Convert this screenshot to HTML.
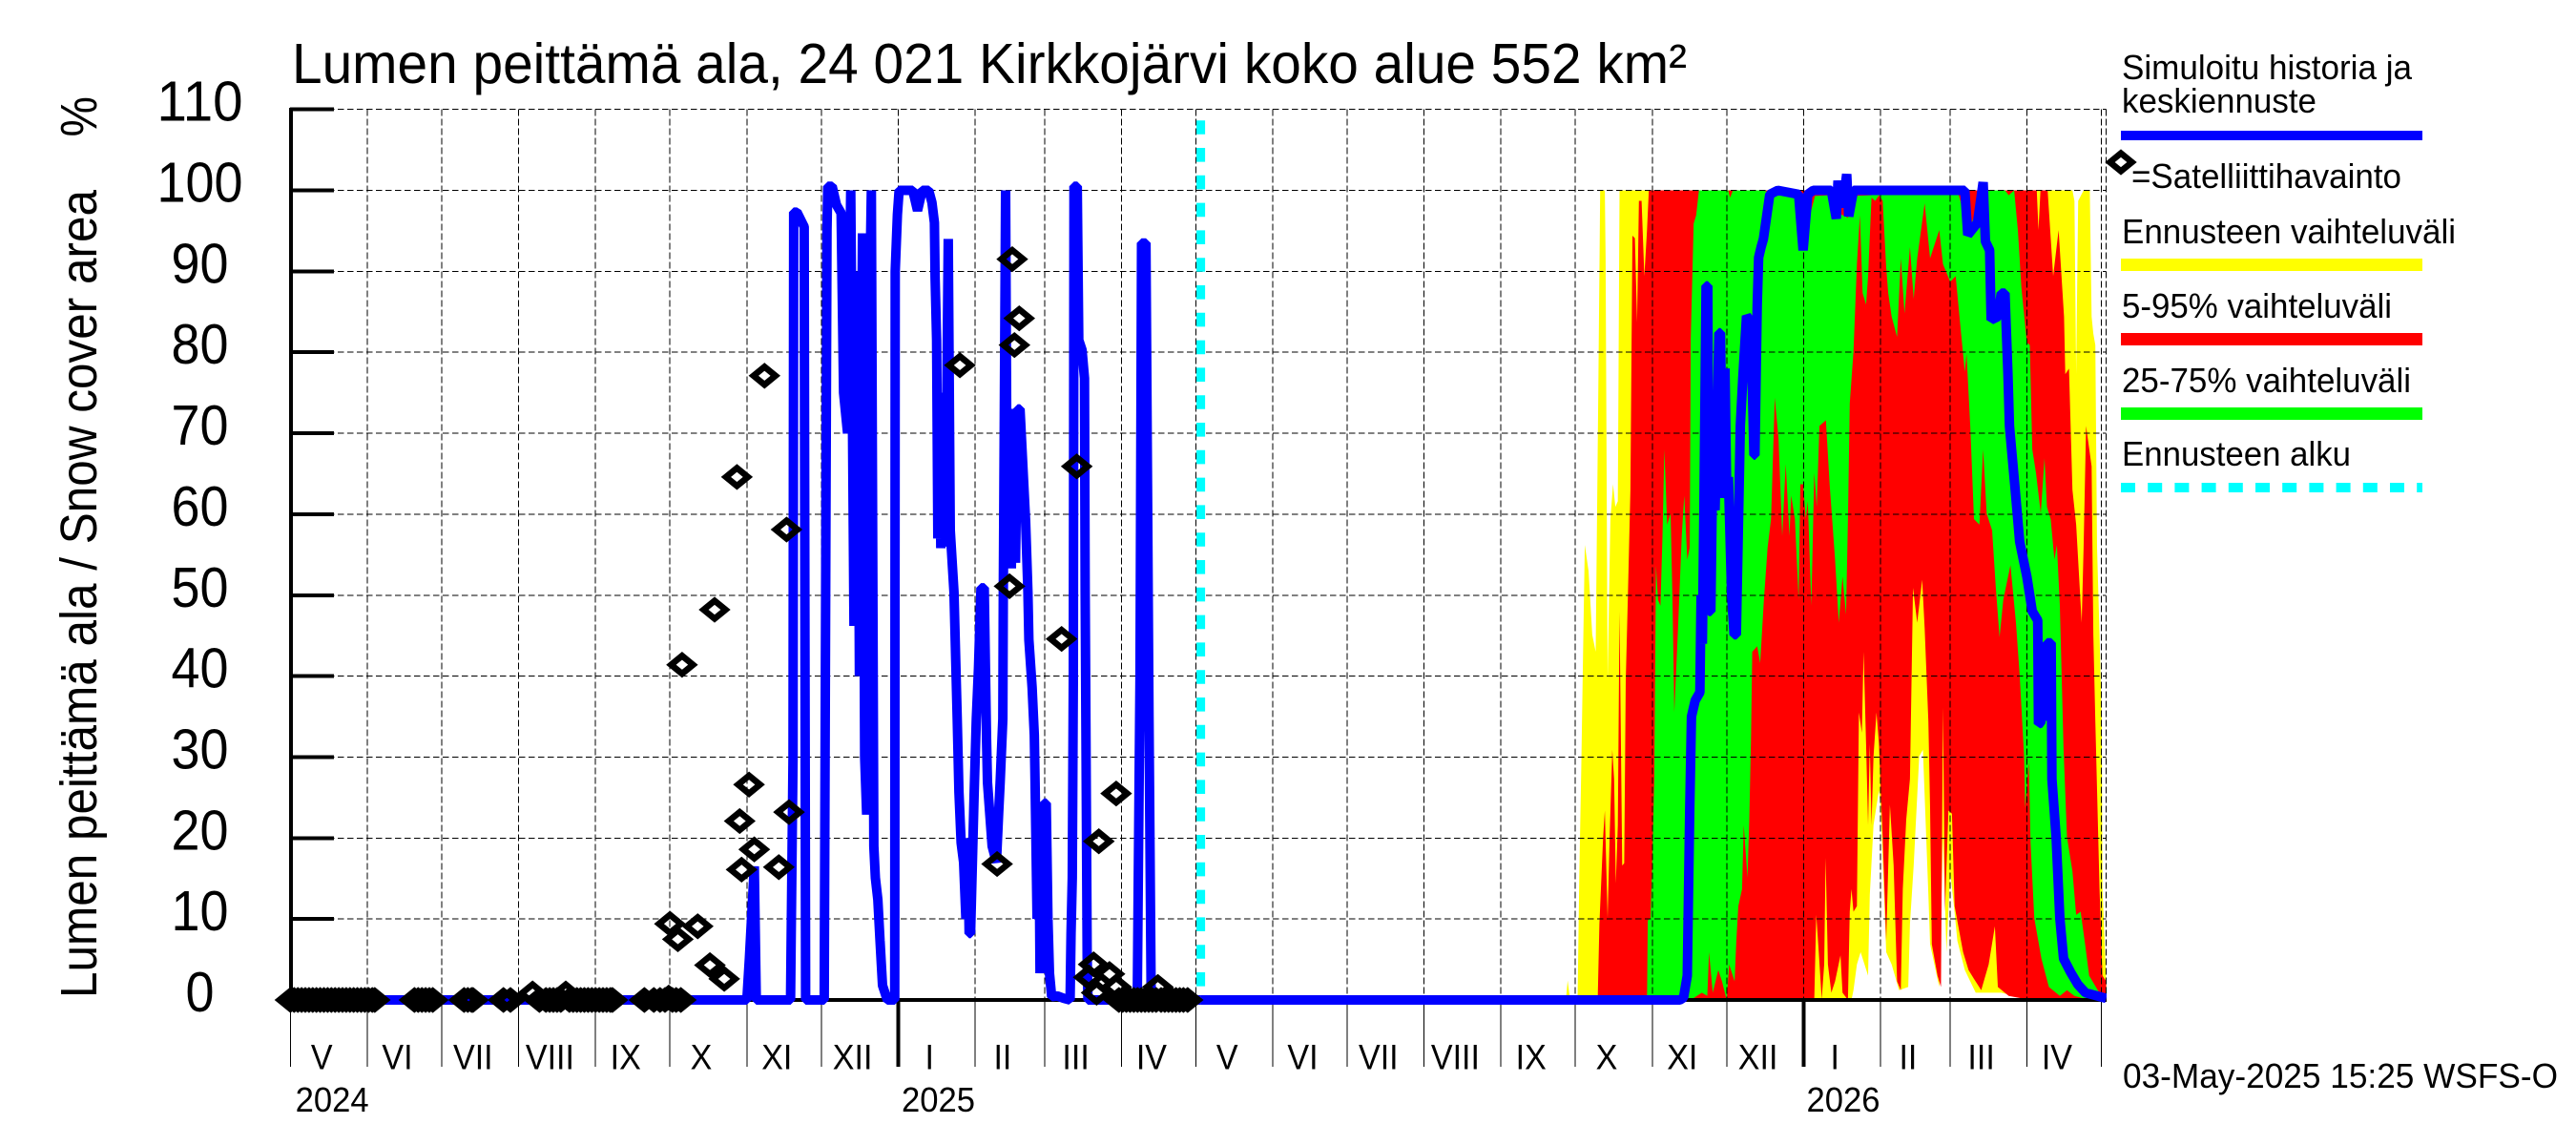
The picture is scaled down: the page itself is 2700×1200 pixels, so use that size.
<!DOCTYPE html>
<html lang="fi">
<head>
<meta charset="utf-8">
<title>Lumen peittämä ala</title>
<style>
html,body{margin:0;padding:0;background:#fff;}
svg{display:block;}
text{font-family:"Liberation Sans",sans-serif;fill:#000;}
</style>
</head>
<body>
<svg id="chart" xmlns="http://www.w3.org/2000/svg" width="2700" height="1200" viewBox="0 0 2700 1200">
  <rect x="0" y="0" width="2700" height="1200" fill="#fff"/>
  <defs><clipPath id="plot-clip"><rect x="304" y="100" width="1904" height="965"/></clipPath></defs>
  <g id="bands" clip-path="url(#plot-clip)"></g>
  <g id="grid"></g>
  <g id="axes"></g>
  <g id="series" clip-path="url(#plot-clip)"></g>
  <g id="obs"></g>

  <text x="306" y="87" font-size="59" textLength="1462" lengthAdjust="spacingAndGlyphs">Lumen peittämä ala, 24 021 Kirkkojärvi koko alue 552 km²</text>
  <text transform="translate(101,1046) rotate(-90)" font-size="54" textLength="847" lengthAdjust="spacingAndGlyphs">Lumen peittämä ala / Snow cover area</text>
  <text transform="translate(101,143.5) rotate(-90)" font-size="54" textLength="42.5" lengthAdjust="spacingAndGlyphs">%</text>

  <g>
    <text x="2224" y="83" font-size="36" textLength="304" lengthAdjust="spacingAndGlyphs">Simuloitu historia ja</text>
    <text x="2224" y="118" font-size="36" textLength="204" lengthAdjust="spacingAndGlyphs">keskiennuste</text>
    <rect x="2223" y="137" width="316" height="10" fill="#0000ff"/>
    <path d="M2211.5 170 L2223 160.6 L2234.5 170 L2223 179.4 Z" fill="none" stroke="#000" stroke-width="6.6"/>
    <text x="2234" y="197" font-size="36" textLength="283" lengthAdjust="spacingAndGlyphs">=Satelliittihavainto</text>
    <text x="2224" y="255" font-size="36" textLength="350" lengthAdjust="spacingAndGlyphs">Ennusteen vaihteluväli</text>
    <rect x="2223" y="271" width="316" height="13" fill="#ffff00"/>
    <text x="2224" y="333" font-size="36" textLength="283" lengthAdjust="spacingAndGlyphs">5-95% vaihteluväli</text>
    <rect x="2223" y="349" width="316" height="13" fill="#ff0000"/>
    <text x="2224" y="411" font-size="36" textLength="303" lengthAdjust="spacingAndGlyphs">25-75% vaihteluväli</text>
    <rect x="2223" y="427" width="316" height="13" fill="#00ff00"/>
    <text x="2224" y="488" font-size="36" textLength="240" lengthAdjust="spacingAndGlyphs">Ennusteen alku</text>
    <line x1="2223" y1="511" x2="2539" y2="511" stroke="#00ffff" stroke-width="10" stroke-dasharray="15 13.2"/>
  </g>
  <text x="2225" y="1140" font-size="36" textLength="456" lengthAdjust="spacingAndGlyphs">03-May-2025 15:25 WSFS-O</text>
</svg>

<script>
// ---- Data: days since 2024-05-01, values in percent ----
const yTicks = [0,10,20,30,40,50,60,70,80,90,100,110];
const monthStartDays = [0,31,61,92,123,153,184,214,245,276,304,335,365,396,426,457,488,518,549,579,610,641,669,700,730];
const monthLabels = ["V","VI","VII","VIII","IX","X","XI","XII","I","II","III","IV","V","VI","VII","VIII","IX","X","XI","XII","I","II","III","IV"];
const yearStartDays = [245,610];
const yearLabels = ["2024","2025","2026"];
const yearLabelDays = [2,246.4,611.2];
const forecastStartDay = 367;

const simulatedDays = [0,184,185,187,187.8,201.6,202.6,202.9,204.2,207.1,207.7,213.3,215.2,215.9,216.3,216.6,217.2,218.4,220.1,222,223,224.6,225.9,227.2,228.6,229.4,230.6,231.5,232.3,233.2,234.2,235.2,235.8,236.8,237.7,238.7,240.6,242.9,243.6,243.8,244.7,245.4,250.9,252.8,254.7,257.3,258.6,259.6,259.9,260.5,261,261.6,262.2,263,263.8,264.6,265.2,266,267.5,268.8,269.5,270.4,271.4,272.3,273,273.6,274.2,275.6,276.5,277.4,278.4,279.7,280.6,281,282.9,284.6,285.5,286.1,287.2,287.4,288.3,289,290,290.6,291.6,292.3,293.2,294.1,296.4,297.3,297.7,299,299.9,300.2,301,301.7,302.2,303,303.8,304.7,305.4,306,306.9,309.2,311.8,314.3,314.7,315.2,315.6,315.9,317.2,317.8,319.1,320.1,320.4,320.8,321.2,321.5,341.4,342.5,343.1,344.9,346.1,347,367];
const simulatedValues = [0,0,5,16.5,0,0,30,97.3,97.3,95.5,0,0,0,60,95,100.5,100.5,100.5,98.2,97.2,75,70,100,46.2,90,40,94.7,30,22.9,80,100,19,15.1,12.4,7.3,1.8,0,0,0,90,97,100,100,97.5,100,100,98.5,96,89.3,81.5,57,75,55.8,75,56,75,94,58,50.4,34.7,25.7,19.4,17,10,20,8.2,8.2,25.3,34.7,41,50.9,50.9,32.4,26.9,19,17,23,26.9,34.7,50.4,100,55,73,53.3,73,54,73,73,59.1,50.4,44.5,38.6,32.7,26.9,10,24,3.3,20,24.3,24.3,10,3.3,0.4,0.5,0.2,0,8.2,15.1,39.8,100.5,100.5,81.5,80.3,76.8,50.4,27,5.3,0,0,40,93.5,93.5,35,0,0];

const forecastMeanDays = [367,560.1,561.6,563.1,564.1,564.8,566.3,568.2,568.7,569.2,569.8,570.7,571.4,571.8,572.6,573.2,574.3,575.9,576.5,577.4,578.3,579,579.7,581,582,582.9,584.5,585.5,587,588.7,590,590.4,591.3,591.9,592.9,593.8,595.1,596.4,599.6,608,609.8,611.7,613.9,621.2,623.2,623.9,624.9,626.1,627.4,628.2,630.1,675,676.2,680.1,682.4,683.3,685,685.6,688.3,689.7,691.2,692.4,693,695.3,697.1,700,702.2,704.4,704.7,705.6,706.5,707.2,708.2,708.9,709.8,710.1,711.8,713.3,714.8,717.7,720.6,723.6,732];
const forecastMeanValues = [0,0,0.3,3,23.7,35,37,38,50,44,60,88.2,88.2,48,48,62,60.5,82.4,82.4,62,78,63,64.6,50,45.1,45.1,70.9,76.8,84.5,83.8,67.3,67.3,85.8,91.7,93,94,96.8,99.5,100,99.5,92.6,99.5,100,100,96.5,101.2,98,99,102,96.8,100,100,94.5,96,101,93.7,92.6,84,84.4,87.3,87.3,77.3,70.9,63,56.6,52.3,48,46.9,34.1,34.2,44,34.5,44.1,44.1,44.1,27.3,20.1,10.1,5.1,3.4,1.9,0.9,0.2];

const yellowUpperDays = [514.2,514.9,515.9,518.9,519.6,520.4,521.1,521.8,523.3,524.8,526.2,527.3,528,529.9,530.2,531,532.1,533.2,534.1,535.1,535.8,718.4,719.2,719.9,720.7,722.9,725.4,726.1,726.8,727.6,728.3,729.3,730.2,730.5,732,732.1];
const yellowUpperValues = [0,2.4,0,0,15.9,28.7,43,56.2,53,45.1,43,77.3,100,100,91.6,39.4,59.4,63.7,60.9,61.6,100,100,98.7,77.3,98.7,100,100,84.4,82.3,80.9,55.9,45.1,34.4,13.7,2.3,0];
const yellowLowerDays = [514.2,629.3,630.1,631.5,633,636,636.7,638.2,640.4,641.1,643.3,645.5,648.5,652.2,652.9,654.4,656.6,658.1,660.3,661,664.7,666.2,667.6,669.1,670.6,672,675,679.4,689.7,701.5,732.1];
const yellowLowerValues = [0,0,1.2,4.4,5.9,3,13,21.6,25.9,23.7,5.9,4.4,1.2,1.6,9.4,16.6,30.1,30.9,13,6.9,1.6,20.1,5.9,15.9,11.6,7.3,3.7,0.9,0.9,0,0];

const redUpperDays = [527,527.7,529.2,529.9,531,531.8,532.9,533.6,534.3,535.1,535.8,536.9,537.7,538.3,539.2,540.2,541,542,542.9,543.6,544.7,545.8,546.9,547.6,704,704.7,705.5,708.4,710.6,712.8,715,715.5,717,718.4,719.9,722.1,722.9,723.9,726.1,726.8,727.6,729.3,730.5,732];
const redUpperValues = [0,9.4,20.1,23.4,10.1,20.1,30.9,27.3,14.4,21.6,48,16.6,16.9,39.4,50.1,63,94.4,94.1,83.7,98.7,98.7,89.4,95.1,100,100,95.1,100,100,89.4,95.1,84.4,77.3,78,63,58.7,46.6,55.9,70.9,65.9,45.1,34.4,13.7,3,2.3];
const redLowerDays = [527,614.3,615.1,616.1,617.3,618.3,618.9,619.8,621.2,622.7,624.9,625.7,627.9,628.6,629.3,630.1,631.5,632.3,633.5,634.2,635.2,636,636.7,637.4,638.2,639.4,640.4,641.1,641.9,643.3,644.8,646.3,647.7,649.2,650,651.4,652.9,654.1,655.8,657.8,658.8,660.3,661,661.7,664,665.4,666.2,667,668.4,669.8,670.9,674.3,676.5,678.7,681.6,684.6,687.1,688.3,692.7,701.5,732];
const redLowerValues = [0,0,10.5,5.9,0.1,4.4,17.6,4.4,0.9,2.3,5.5,0.9,0,10.9,13.7,10.9,11.6,35.5,33,43,31.6,21.6,31.6,21.6,30.1,35.5,31.6,25.9,20.1,7.3,24.1,16.6,2.3,1.2,13.7,22.3,27.3,50.9,46.6,51.9,45.9,34.4,23.7,6.9,3,1.6,36.2,10.9,23.4,23,11.6,5.9,3.7,2.6,1.2,4.4,9.1,1.6,0.5,0,0];

const greenUpperDays = [546.9,547.2,548.3,549.1,549.8,550.5,551.3,552.3,553.1,553.9,555,556.4,557.2,557.9,559.4,560.9,561.9,563.1,564.1,564.5,565.7,566.7,567.8,579.6,580.4,581.5,593.3,601.4,608,609.8,614.6,620.5,623.2,627.9,630.1,637.4,639.6,672,676.5,683.1,691.2,692.7,694.9,696.4,697.8,700,701.2,702.2,703.7,705.6,707.1,708.1,709.6,711.1,712.1,713.3,714.8,716.2,718.4,719.9,721.7,723.6,725.1,729.2,732];
const greenUpperValues = [0,9.8,10.1,18.7,27.3,53.7,49.4,48.7,57.3,68,58.7,60.1,48.7,35.5,45.9,57.3,62.3,54.4,55.9,81.6,95.9,96.9,100,100,99.1,100,100,99.4,99.4,93.7,99.3,99.4,97.3,96.6,99.3,99.4,100,100,95.1,100,100,99.4,100,95.1,88,81.2,80.9,68,65.1,60.1,66.9,60.9,59.4,54.4,56.2,48.7,30.9,20.1,15.9,10.5,10.9,6.6,3,0.9,0];
const greenLowerDays = [546.9,564.5,569,571.2,571.9,573.4,575.6,577.1,579,580,582.2,582.9,583.7,585.2,585.9,587.4,588.1,588.8,589.3,591.3,592.5,594,595.5,596.9,598.4,599.9,601.4,602.8,604.3,605,606.5,608,608.7,609.8,610.9,611.7,613.1,614.3,615.3,616.4,619,620.5,622.7,624.2,625.7,627.1,627.9,628.6,630.1,631.5,632.7,633.8,635.2,636,637.4,638.9,640.4,641.9,643.3,644.1,645.5,647.7,649.2,650.7,652.9,654.4,655.8,658.8,661,664.7,666.2,669.1,671.3,673.5,675,675.7,677.2,678.7,680.9,682.4,683.8,686,687.5,689,690.5,693.4,695.6,697.1,698.9,699.3,700.8,701.5,703,705.9,708.9,713.3,716.2,719.2,725.1,732];
const greenLowerValues = [0,0,0.9,0.5,5.9,0.9,3.7,2.3,0,4.4,2.3,7.3,11.6,13.7,21.6,15.1,22.3,32.3,43,43.7,41.6,49.4,55.9,59.4,74.4,69.4,57.3,66.2,57.3,62.3,59.4,49.4,63.7,63.7,59.4,61.6,48.7,65.1,60.9,70.9,71.6,63.7,54.4,46.6,52.3,47.6,59.4,73.7,80.1,90.9,96.9,87.3,85.9,89.4,99.1,98.7,99.4,98.7,90.5,87.3,84.4,81.9,91.6,84.8,93,86.6,91.6,98.4,91.6,95.1,90.9,88.7,89.4,82.3,77.6,79.8,70.9,59.4,58.7,68,60.1,58,50.9,44.8,49.4,53.7,46.6,40.1,30.1,23.7,29.4,19.4,10.1,5.1,1.6,0.5,1.2,0.5,0,0];

const observationDays = [0,1.5,3,4.5,6,7.5,9,10.5,12,13.5,15,16.5,18,19.5,21,22.5,24,25.5,27,28.5,30,31.5,33,34,50,51.5,53,54.5,56,57.4,70,71.5,73,73.6,85.9,88.7,97.6,100.4,103,104.5,106,107.5,109,111,112.5,114,115.5,117,118.5,120,121.5,123,124.5,126,127.5,129,129.8,142.7,146.5,149,151,152.5,154,155.5,157.4,153,156.2,164.2,169.1,174.9,157.9,171,180,191.1,200,184.9,181.1,187,181.9,196.9,201,269.9,291,293.8,291.9,289.9,284.9,310.9,317,332.9,325.9,323.8,330.2,321.8,325,332.9,334,335.5,337,338.5,340,341.5,343,344.5,346,347.5,349,349.7,351,352.5,354,355.5,357,358.5,360,361.7];
const observationValues = [0,0,0,0,0,0,0,0,0,0,0,0,0,0,0,0,0,0,0,0,0,0,0,0,0,0,0,0,0,0,0,0,0,0,0,0,0.8,0,0,0,0,0,0,0.8,0,0,0,0,0,0,0,0,0,0,0,0,0,0,0,0,0,0.3,0,0,0,9.4,7.5,9.1,4.3,2.6,41.4,48.2,64.6,77.1,58.1,26.6,22.1,18.6,16.1,16.4,23.2,78.4,91.5,84.2,80.9,51.1,16.8,44.6,65.9,25.5,19.6,4.4,3.2,2.8,0.9,1.6,0,0,0,0,0,0,0,0,0,0,0,1.6,0,0,0,0,0,0,0,0];

// ---- Scales ----
const xOf = d => 304.4 + 2.6 * d;
const yOf = v => 1048 - 8.485 * v;
const NS = "http://www.w3.org/2000/svg";
function mk(tag, parent, attrs, txt) {
  const el = document.createElementNS(NS, tag);
  for (const k in attrs) el.setAttribute(k, attrs[k]);
  if (txt !== undefined) el.textContent = txt;
  parent.appendChild(el);
  return el;
}
const fmt = n => n.toFixed(1);
function bandPath(ud, uv, ld, lv) {
  let p = "";
  ud.forEach((d, i) => { p += (i ? "L" : "M") + fmt(xOf(d)) + " " + fmt(yOf(uv[i])); });
  for (let i = ld.length - 1; i >= 0; i--) p += "L" + fmt(xOf(ld[i])) + " " + fmt(yOf(lv[i]));
  return p + "Z";
}
function linePath(ds, vs) {
  return ds.map((d, i) => (i ? "L" : "M") + fmt(xOf(d)) + " " + fmt(yOf(vs[i]))).join("");
}

// ---- Bands ----
const gBands = document.getElementById("bands");
const yellowBand = mk("path", gBands, {d: bandPath(yellowUpperDays, yellowUpperValues, yellowLowerDays, yellowLowerValues), fill: "#ffff00"});


const redBand = mk("path", gBands, {d: bandPath(redUpperDays, redUpperValues, redLowerDays, redLowerValues), fill: "#ff0000"});


const greenBand = mk("path", gBands, {d: bandPath(greenUpperDays, greenUpperValues, greenLowerDays, greenLowerValues), fill: "#00ff00"});



// ---- Grid ----
const gGrid = document.getElementById("grid");
yTicks.forEach(v => {
  if (v === 0) return;
  const g = mk("line", gGrid, {x1: 304, x2: 2207.5, y1: yOf(v), y2: yOf(v), stroke: "#000", "stroke-width": 1, "stroke-dasharray": "6.7 3.3", "shape-rendering": "crispEdges"});
  
  
});
monthStartDays.forEach(d => {
  if (d === 0) return;
  const g = mk("line", gGrid, {x1: xOf(d), x2: xOf(d), y1: yOf(110), y2: yOf(0), stroke: "#000", "stroke-width": 1, "stroke-dasharray": "6.7 3.3", "shape-rendering": "crispEdges"});
  
  
});
const rightBorder = mk("line", gGrid, {x1: 2207.5, x2: 2207.5, y1: yOf(110), y2: yOf(0), stroke: "#000", "stroke-width": 1, "stroke-dasharray": "6.7 3.3", "shape-rendering": "crispEdges"});



// ---- Axes ----
const gAxes = document.getElementById("axes");
const yAxisLine = mk("line", gAxes, {x1: 305, x2: 305, y1: 113, y2: 1049, stroke: "#000", "stroke-width": 4, "shape-rendering": "crispEdges"});


const xAxisLine = mk("line", gAxes, {x1: 304, x2: 2208, y1: 1048, y2: 1048, stroke: "#000", "stroke-width": 4, "shape-rendering": "crispEdges"});


yTicks.forEach(v => {
  const t = mk("line", gAxes, {x1: 304, x2: 350, y1: yOf(v), y2: yOf(v), stroke: "#000", "stroke-width": 4, "shape-rendering": "crispEdges"});
  
  
  const s = String(v);
  const l = mk("text", gAxes, {x: 209.5, y: yOf(v) + 12, "font-size": 59, "text-anchor": "middle", textLength: s.length * 30, lengthAdjust: "spacingAndGlyphs"}, s);
  
  
});
monthStartDays.forEach(d => {
  const t = mk("line", gAxes, {x1: xOf(d), x2: xOf(d), y1: 1048, y2: 1118, stroke: "#000", "stroke-width": yearStartDays.includes(d) ? 4 : 1, "shape-rendering": "crispEdges"});
  
  
});
monthLabels.forEach((m, i) => {
  const c = (xOf(monthStartDays[i]) + xOf(monthStartDays[i + 1])) / 2 - 7.5;
  const l = mk("text", gAxes, {transform: `translate(${c.toFixed(1)},1120.5) scale(0.92,1)`, "font-size": 37, "text-anchor": "middle"}, m);
  
  
});
yearLabels.forEach((y, i) => {
  const l = mk("text", gAxes, {x: xOf(yearLabelDays[i]), y: 1165, "font-size": 36, textLength: 77, lengthAdjust: "spacingAndGlyphs"}, y);
  
  
});

// ---- Series ----
const gSeries = document.getElementById("series");
const startLine = mk("line", gSeries, {x1: xOf(forecastStartDay), x2: xOf(forecastStartDay), y1: 126.2, y2: 1048, stroke: "#00ffff", "stroke-width": 9, "stroke-dasharray": "14.6 14.2"});


const simLine = mk("path", gSeries, {d: linePath(simulatedDays, simulatedValues), fill: "none", stroke: "#0000ff", "stroke-width": 10, "stroke-linejoin": "bevel"});


const meanLine = mk("path", gSeries, {d: linePath(forecastMeanDays, forecastMeanValues), fill: "none", stroke: "#0000ff", "stroke-width": 10, "stroke-linejoin": "bevel"});



// ---- Observations ----
const gObs = document.getElementById("obs");
observationDays.forEach((d, i) => {
  const x = xOf(d), y = yOf(observationValues[i]);
  const m = mk("path", gObs, {d: `M${fmt(x - 11.5)} ${fmt(y)}L${fmt(x)} ${fmt(y - 9.4)}L${fmt(x + 11.5)} ${fmt(y)}L${fmt(x)} ${fmt(y + 9.4)}Z`, fill: "none", stroke: "#000", "stroke-width": 6.6});
  
  
});
</script>
</body>
</html>
